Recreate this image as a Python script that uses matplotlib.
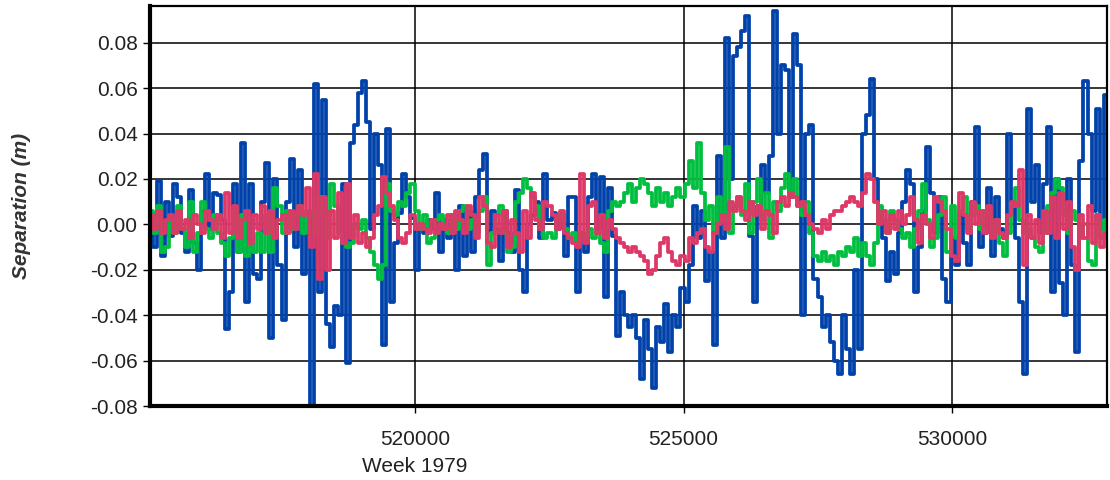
import numpy as np
import matplotlib
matplotlib.use("Agg")
import matplotlib.pyplot as plt
import matplotlib.transforms as mtransforms

plt.rcParams['font.family'] = ['Liberation Sans', 'DejaVu Sans']
plt.rcParams['axes.unicode_minus'] = False

# epochs: seconds of week, one sample every 75 s
epoch_start =   515080
epoch_step  =   75

blue_sep = [
    0.005, -0.010, 0.019, -0.014, 0.010, -0.005, 0.018, 0.012, -0.004, -0.012,
    0.015, -0.008, -0.020, 0.006, 0.022, -0.002, 0.014, 0.013, 0.002, -0.046,
    -0.030, 0.018, -0.012, 0.036, -0.034, 0.018, -0.022, -0.024, 0.010, 0.027,
    -0.050, 0.020, -0.018, -0.042, 0.010, 0.029, -0.010, 0.024, -0.022, 0.005,
    -0.080, 0.062, -0.030, 0.055, -0.044, -0.054, -0.036, -0.040, 0.018, -0.061,
    0.036, 0.044, 0.058, 0.063, 0.045, -0.002, 0.040, 0.026, -0.053, 0.042,
    -0.034, -0.008, 0.005, 0.022, 0.012, 0.003, -0.020, -0.002, -0.004, 0.002,
    -0.002, 0.014, -0.012, 0.002, -0.006, 0.004, -0.020, 0.008, -0.014, 0.006,
    -0.012, 0.012, 0.024, 0.031, -0.003, 0.006, -0.002, -0.016, 0.006, -0.004,
    -0.012, 0.015, -0.020, -0.030, 0.000, 0.004, 0.010, -0.006, 0.022, 0.002,
    0.005, -0.002, 0.004, -0.014, 0.012, 0.012, -0.030, -0.004, -0.012, 0.012,
    0.022, -0.002, 0.021, -0.032, 0.016, -0.005, -0.049, -0.030, -0.040, -0.045,
    -0.040, -0.050, -0.068, -0.042, -0.055, -0.072, -0.045, -0.052, -0.035, -0.056,
    -0.040, -0.045, -0.028, -0.034, -0.018, 0.008, -0.006, 0.006, -0.025, -0.012,
    -0.053, 0.030, -0.006, 0.082, 0.020, 0.074, 0.078, 0.085, 0.092, -0.005,
    -0.034, 0.008, 0.026, 0.014, 0.030, 0.094, 0.040, 0.070, 0.068, 0.012,
    0.084, 0.070, -0.040, 0.040, 0.044, -0.024, -0.032, -0.045, -0.040, -0.052,
    -0.060, -0.066, -0.040, -0.055, -0.066, -0.020, -0.055, 0.040, 0.048, 0.064,
    0.020, 0.004, -0.006, -0.025, -0.012, -0.022, -0.004, 0.010, 0.024, 0.018,
    -0.030, -0.010, 0.006, 0.034, 0.014, -0.004, 0.012, -0.024, -0.034, -0.006,
    -0.018, 0.004, -0.008, -0.018, 0.010, 0.043, -0.010, -0.004, 0.016, -0.014,
    0.012, -0.002, -0.006, 0.040, 0.010, -0.006, -0.034, -0.066, 0.051, 0.010,
    0.026, -0.004, 0.018, 0.043, -0.030, 0.020, -0.026, -0.040, 0.020, -0.018,
    -0.056, 0.028, 0.063, 0.040, 0.006, 0.051, -0.002, 0.057,
]

green_sep = [
    0.006, -0.004, 0.008, -0.012, -0.010, 0.002, -0.004, 0.008, -0.002, -0.010,
    0.010, -0.012, -0.004, 0.010, -0.002, -0.006, 0.004, -0.004, -0.008, -0.014,
    -0.006, 0.006, -0.012, 0.004, -0.014, -0.008, -0.012, -0.004, -0.012, 0.004,
    -0.012, 0.016, 0.008, -0.004, 0.006, -0.002, 0.004, 0.008, -0.004, 0.006,
    0.006, -0.004, 0.012, 0.004, -0.006, 0.018, 0.008, -0.004, -0.008, -0.010,
    -0.008, 0.000, -0.002, 0.002, -0.006, -0.012, -0.018, -0.024, -0.018, 0.018,
    0.006, 0.004, 0.010, 0.008, 0.014, 0.018, 0.006, -0.002, 0.004, -0.008,
    -0.006, 0.002, 0.004, -0.002, -0.004, 0.004, -0.002, 0.006, 0.008, -0.002,
    0.002, -0.004, 0.006, 0.012, -0.018, -0.004, 0.004, 0.008, -0.004, -0.012,
    -0.010, 0.010, 0.014, 0.020, 0.016, 0.012, 0.008, -0.002, -0.006, -0.004,
    -0.006, 0.002, 0.004, -0.002, -0.006, -0.004, -0.008, -0.004, -0.006, -0.002,
    -0.006, -0.004, -0.008, -0.012, 0.006, 0.010, 0.008, 0.010, 0.014, 0.018,
    0.010, 0.016, 0.020, 0.018, 0.014, 0.008, 0.016, 0.010, 0.014, 0.008,
    0.012, 0.016, 0.012, 0.018, 0.028, 0.016, 0.036, 0.014, 0.002, 0.008,
    -0.004, 0.012, 0.002, 0.034, -0.004, 0.008, 0.012, 0.004, 0.018, -0.004,
    0.010, 0.020, 0.002, 0.014, -0.006, 0.010, 0.006, 0.016, 0.022, 0.012,
    0.020, 0.008, 0.004, 0.010, -0.004, -0.014, -0.016, -0.012, -0.016, -0.014,
    -0.018, -0.012, -0.014, -0.010, -0.012, -0.006, -0.014, -0.008, -0.014, -0.018,
    -0.008, 0.008, 0.002, -0.004, 0.006, 0.002, -0.002, -0.006, -0.004, -0.010,
    -0.002, 0.006, 0.018, 0.002, -0.010, -0.006, 0.004, 0.012, -0.012, 0.008,
    -0.006, 0.006, 0.012, -0.002, 0.004, 0.008, -0.002, 0.006, 0.004, -0.004,
    0.002, -0.008, -0.014, -0.004, 0.008, 0.016, 0.002, -0.004, -0.002, -0.006,
    -0.010, -0.012, -0.004, 0.008, 0.014, 0.020, 0.016, 0.004, -0.004, 0.006,
    0.002, -0.006, 0.000, -0.016, -0.018, 0.004, -0.006, 0.002,
]

red_sep = [
    0.004, -0.002, 0.006, -0.004, 0.002, 0.004, -0.004, 0.006, -0.002, 0.002,
    -0.006, 0.004, 0.000, -0.004, 0.006, 0.002, -0.002, 0.004, -0.006, 0.014,
    -0.004, 0.008, -0.006, 0.002, 0.006, -0.008, 0.004, -0.002, 0.008, -0.004,
    0.006, -0.006, 0.002, 0.004, -0.004, 0.006, -0.002, 0.008, 0.004, 0.016,
    -0.010, 0.022, -0.024, 0.012, -0.020, 0.006, -0.006, 0.014, -0.008, 0.018,
    -0.006, 0.004, -0.008, -0.004, -0.010, -0.006, 0.004, 0.008, 0.021, 0.014,
    0.008, 0.002, -0.006, -0.008, -0.004, 0.004, -0.002, 0.000, -0.002, -0.004,
    0.002, -0.004, 0.000, -0.002, 0.004, -0.004, 0.006, 0.002, -0.004, 0.008,
    0.004, -0.006, 0.012, 0.008, -0.008, -0.010, 0.004, -0.004, 0.006, -0.010,
    0.002, -0.004, -0.012, 0.006, -0.006, 0.014, 0.002, -0.002, 0.010, 0.008,
    0.004, -0.002, 0.006, -0.004, -0.006, -0.008, -0.010, 0.022, -0.008, 0.008,
    0.010, -0.004, 0.004, -0.006, 0.002, -0.002, -0.006, -0.008, -0.010, -0.012,
    -0.010, -0.012, -0.014, -0.016, -0.022, -0.020, -0.014, -0.008, -0.006, -0.012,
    -0.016, -0.018, -0.014, -0.016, -0.006, -0.008, -0.004, -0.002, -0.010, -0.012,
    -0.004, 0.000, 0.004, -0.002, 0.010, 0.006, 0.012, 0.006, 0.002, 0.010,
    0.004, 0.008, -0.002, 0.006, 0.004, -0.004, 0.010, 0.012, 0.008, 0.014,
    0.012, 0.008, 0.010, 0.004, 0.000, -0.002, -0.004, 0.002, -0.002, 0.004,
    0.006, 0.006, 0.008, 0.010, 0.012, 0.010, 0.008, 0.014, 0.022, 0.020,
    0.010, 0.000, 0.006, -0.004, 0.004, -0.002, 0.006, 0.000, 0.004, 0.012,
    0.002, -0.008, 0.004, 0.000, -0.006, 0.012, 0.010, 0.006, -0.002, -0.014,
    -0.016, 0.014, 0.004, -0.004, 0.010, 0.000, 0.006, -0.004, 0.008, -0.006,
    0.002, -0.004, -0.006, 0.004, 0.010, 0.008, 0.024, -0.018, 0.004, -0.006,
    0.002, -0.008, 0.006, -0.004, 0.012, -0.006, 0.014, -0.002, 0.010, -0.010,
    -0.020, 0.004, -0.006, 0.008, -0.008, 0.004, -0.010, -0.004,
]

x_ticks         =   [520000, 525000, 530000]
x_tick_labels   =   ["520000", "525000", "530000"]
y_ticks         =   [-0.08, -0.06, -0.04, -0.02, 0.00, 0.02, 0.04, 0.06, 0.08]
week_label      =   "Week 1979"

def main():
    n       =   len(blue_sep)
    sow     =   epoch_start + epoch_step*np.arange(n)

    fig     =   plt.figure(figsize=(11.1, 4.8), dpi=100)
    ax      =   fig.add_axes([150/1110, 1-406/480, 957/1110, 400/480])

    series  =   [(blue_sep, '#0042AA'), (green_sep, '#00BF3F'), (red_sep, '#DE3866')]
    for vals, colour in series:
        ax.plot(sow, vals, color=colour, lw=2.7, drawstyle='steps-mid')

    ax.set_xlim(515070, 532880)
    ax.set_ylim(-0.08, 0.0962)
    ax.set_xticks(x_ticks)
    ax.set_xticklabels(x_tick_labels)
    ax.set_yticks(y_ticks)
    ax.set_yticklabels(["%.2f" % v for v in y_ticks])

    ax.set_axisbelow(True)
    ax.grid(True, color='black', lw=1.1)

    for side in ['left', 'bottom']:
        ax.spines[side].set_linewidth(3.0)
    for side in ['top', 'right']:
        ax.spines[side].set_linewidth(1.6)

    ax.tick_params(axis='both', direction='out', length=5, width=1.0,
                   labelsize=15, colors='black', labelcolor='#222222')
    ax.tick_params(axis='x', pad=12)
    ax.tick_params(axis='y', pad=4)

    ax.set_ylabel("Separation (m)", fontsize=15, style='italic', weight='bold',
                  color='#333333', labelpad=42)

    trans   =   mtransforms.blended_transform_factory(ax.transData, ax.transAxes)
    ax.text(x_ticks[0], -0.128, week_label, transform=trans, ha='center', va='top',
            fontsize=15, color='#222222')

    fig.savefig("out.png", dpi=100)

if __name__ == '__main__':
    main()
